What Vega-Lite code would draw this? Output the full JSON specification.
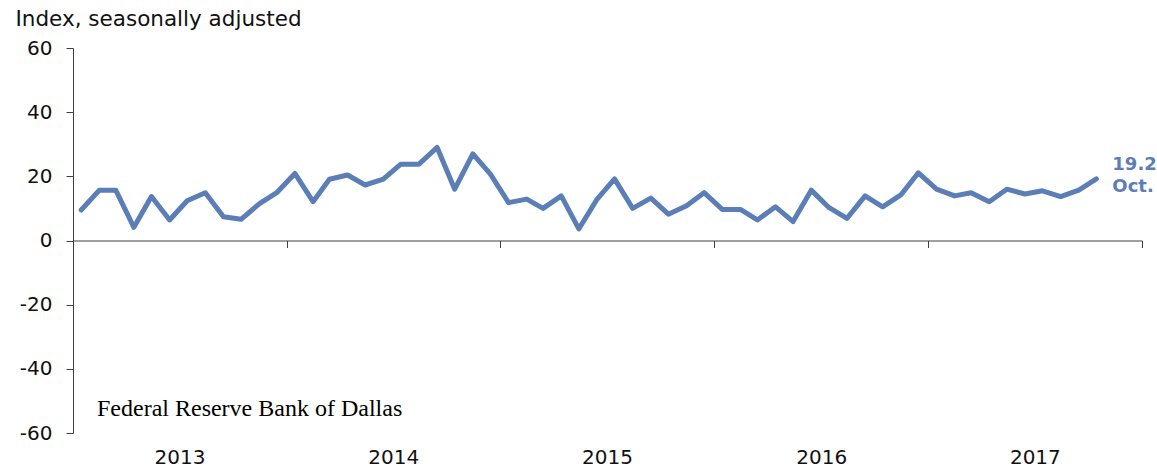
{
  "$schema": "https://vega.github.io/schema/vega-lite/v6.json",
  "autosize": {"type": "none"},
  "width": 1069,
  "height": 385,
  "padding": {"left": 73, "top": 48, "right": 15, "bottom": 34},
  "background": "white",
  "config": {
    "view": {"stroke": null},
    "font": "DejaVu Sans",
    "axis": {"grid": false, "domainColor": "#404040", "tickColor": "#404040", "labelColor": "#111111", "titleColor": "#111111"}
  },
  "datasets": {
    "series": [
      {"date": "2013/01/15", "value": 9.5}, {"date": "2013/02/15", "value": 15.7}, {"date": "2013/03/15", "value": 15.7},
      {"date": "2013/04/15", "value": 4.1}, {"date": "2013/05/15", "value": 13.7}, {"date": "2013/06/15", "value": 6.4},
      {"date": "2013/07/15", "value": 12.4}, {"date": "2013/08/15", "value": 14.9}, {"date": "2013/09/15", "value": 7.4},
      {"date": "2013/10/15", "value": 6.6}, {"date": "2013/11/15", "value": 11.4}, {"date": "2013/12/15", "value": 14.9},
      {"date": "2014/01/15", "value": 20.9}, {"date": "2014/02/15", "value": 12.1}, {"date": "2014/03/15", "value": 19.1},
      {"date": "2014/04/15", "value": 20.4}, {"date": "2014/05/15", "value": 17.3}, {"date": "2014/06/15", "value": 19.1},
      {"date": "2014/07/15", "value": 23.8}, {"date": "2014/08/15", "value": 23.8}, {"date": "2014/09/15", "value": 29.0},
      {"date": "2014/10/15", "value": 16.0}, {"date": "2014/11/15", "value": 27.0}, {"date": "2014/12/15", "value": 20.7},
      {"date": "2015/01/15", "value": 11.8}, {"date": "2015/02/15", "value": 12.9}, {"date": "2015/03/15", "value": 10.0},
      {"date": "2015/04/15", "value": 13.9}, {"date": "2015/05/15", "value": 3.6}, {"date": "2015/06/15", "value": 12.8},
      {"date": "2015/07/15", "value": 19.2}, {"date": "2015/08/15", "value": 10.0}, {"date": "2015/09/15", "value": 13.2},
      {"date": "2015/10/15", "value": 8.2}, {"date": "2015/11/15", "value": 10.8}, {"date": "2015/12/15", "value": 14.9},
      {"date": "2016/01/15", "value": 9.7}, {"date": "2016/02/15", "value": 9.7}, {"date": "2016/03/15", "value": 6.4},
      {"date": "2016/04/15", "value": 10.5}, {"date": "2016/05/15", "value": 5.9}, {"date": "2016/06/15", "value": 15.7},
      {"date": "2016/07/15", "value": 10.3}, {"date": "2016/08/15", "value": 6.9}, {"date": "2016/09/15", "value": 13.9},
      {"date": "2016/10/15", "value": 10.5}, {"date": "2016/11/15", "value": 14.2}, {"date": "2016/12/15", "value": 21.1},
      {"date": "2017/01/15", "value": 16.0}, {"date": "2017/02/15", "value": 13.9}, {"date": "2017/03/15", "value": 14.9},
      {"date": "2017/04/15", "value": 12.1}, {"date": "2017/05/15", "value": 16.0}, {"date": "2017/06/15", "value": 14.5},
      {"date": "2017/07/15", "value": 15.5}, {"date": "2017/08/15", "value": 13.7}, {"date": "2017/09/15", "value": 15.7},
      {"date": "2017/10/15", "value": 19.2}
    ],
    "lastLabel": [{"date": "2017/10/15", "value": 19.2, "label": "19.2\nOct."}],
    "credit": [{"date": "2013/02/11", "value": -52.5, "label": "Federal Reserve Bank of Dallas"}]
  },
  "resolve": {"axis": {"x": "independent"}},
  "layer": [
    {
      "data": {"name": "series"},
      "mark": {"type": "line", "color": "#5A7EB5", "strokeWidth": 5, "strokeCap": "round", "strokeJoin": "round"},
      "encoding": {
        "x": {
          "field": "date", "type": "temporal",
          "scale": {"domain": [{"year": 2013, "month": 1, "date": 1}, {"year": 2018, "month": 1, "date": 1}], "nice": false},
          "axis": {
            "orient": "bottom", "title": null, "domain": false, "ticks": false, "tickSize": 0,
            "labelPadding": 14, "labelFontSize": 20, "format": "%Y", "labelFlush": false, "labelOverlap": false,
            "values": [
              {"year": 2013, "month": 7, "date": 2}, {"year": 2014, "month": 7, "date": 2}, {"year": 2015, "month": 7, "date": 2},
              {"year": 2016, "month": 7, "date": 2}, {"year": 2017, "month": 7, "date": 2}
            ]
          }
        },
        "y": {
          "field": "value", "type": "quantitative",
          "scale": {"domain": [-60, 60], "nice": false, "zero": false},
          "axis": {
            "values": [-60, -40, -20, 0, 20, 40, 60], "tickSize": 7, "labelPadding": 14, "labelFontSize": 20,
            "labelExpr": "toString(datum.value)",
            "title": "Index, seasonally adjusted", "titleAngle": 0, "titleAlign": "left", "titleBaseline": "alphabetic",
            "titleX": -58, "titleY": -23, "titleFontSize": 21.5, "titleFontWeight": "normal"
          }
        }
      }
    },
    {
      "data": {"name": "lastLabel"},
      "mark": {"type": "text", "align": "left", "baseline": "alphabetic", "dx": 16, "dy": -9, "lineBreak": "\n", "lineHeight": 22, "fontSize": 18, "fontWeight": "bold", "color": "#5A7EB5"},
      "encoding": {
        "x": {
          "field": "date", "type": "temporal",
          "axis": {
            "orient": "bottom", "offset": -192.5, "title": null, "labels": false, "domain": true, "ticks": true, "tickSize": 7,
            "values": [
              {"year": 2013, "month": 1, "date": 1}, {"year": 2014, "month": 1, "date": 1}, {"year": 2015, "month": 1, "date": 1},
              {"year": 2016, "month": 1, "date": 1}, {"year": 2017, "month": 1, "date": 1}, {"year": 2018, "month": 1, "date": 1}
            ]
          }
        },
        "y": {"field": "value", "type": "quantitative"},
        "text": {"field": "label"}
      }
    },
    {
      "data": {"name": "credit"},
      "mark": {"type": "text", "align": "left", "baseline": "middle", "font": "Liberation Serif", "fontSize": 24, "color": "#000000"},
      "encoding": {
        "x": {"field": "date", "type": "temporal", "axis": null},
        "y": {"field": "value", "type": "quantitative"},
        "text": {"field": "label"}
      }
    }
  ]
}
